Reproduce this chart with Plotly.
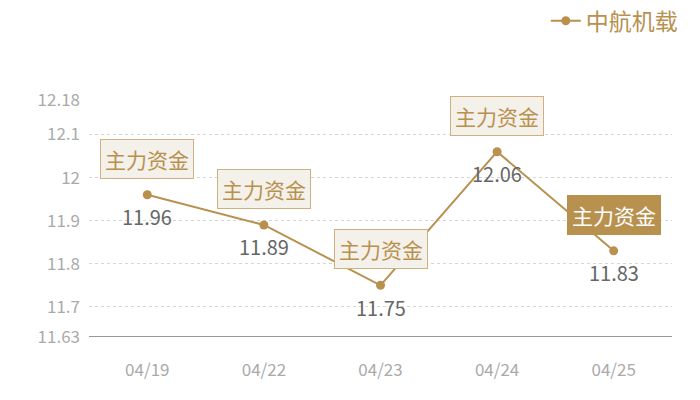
import plotly.graph_objects as go

dates = ["04/19", "04/22", "04/23", "04/24", "04/25"]
prices = [11.96, 11.89, 11.75, 12.06, 11.83]
tick_vals = [11.63, 11.7, 11.8, 11.9, 12, 12.1, 12.18]
tick_text = ["11.63", "11.7", "11.8", "11.9", "12", "12.1", "12.18"]
series_name = "中航机载"
flag_text = "主力资金"
flag_active = [False, False, False, False, True]

gold = "#b8914f"
font = "Noto Sans CJK SC, Microsoft YaHei, sans-serif"

fig = go.Figure()
fig.add_trace(go.Scatter(
    x=dates, y=prices, name=series_name,
    mode="lines+markers",
    line=dict(color=gold, width=2),
    marker=dict(color=gold, size=9),
))

for d, p, active in zip(dates, prices, flag_active):
    # value label under the point
    fig.add_annotation(
        x=d, y=p, text=f"{p:.2f}", showarrow=False, yshift=-22,
        font=dict(size=20, family=font, color="#666666"),
    )
    # flag box above the point
    fig.add_annotation(
        x=d, y=p, text=flag_text, showarrow=False, yshift=36,
        font=dict(size=21, family=font, color="white" if active else gold),
        bgcolor=gold if active else "#f4f0ea",
        bordercolor=gold if active else "#cfb080",
        borderwidth=1, borderpad=4,
    )

# page body has an 8px margin, so margins are trimmed to match
fig.update_layout(
    width=700, height=400,
    margin=dict(l=81, r=36, t=92, b=71, autoexpand=False),
    paper_bgcolor="white", plot_bgcolor="white",
    font=dict(family=font),
    showlegend=True,
    legend=dict(
        orientation="h", xref="container", yref="container",
        x=0.964, xanchor="right", y=0.968, yanchor="middle",
        font=dict(size=23, color=gold, family=font),
        itemwidth=30, bgcolor="rgba(0,0,0,0)",
    ),
)
fig.update_xaxes(
    type="category", range=[-0.5, 4.5], automargin=False,
    showgrid=False, showline=False, zeroline=False,
    ticks="", ticklabelstandoff=21,
    tickfont=dict(size=17, color="#aaaaaa", family=font),
)
fig.update_yaxes(
    range=[11.63, 12.18], tickvals=tick_vals, ticktext=tick_text,
    automargin=False,
    showgrid=True, gridcolor="#d6d6d6", griddash="dot", gridwidth=1,
    zeroline=False, showline=False, ticks="", ticklabelstandoff=8,
    tickfont=dict(size=17, color="#aaaaaa", family=font),
)
# solid base line at the bottom of the plot
fig.add_shape(type="line", xref="paper", yref="y", x0=0, x1=1,
              y0=11.63, y1=11.63, line=dict(color="#333333", width=1.2))

fig.write_html("out.html")
